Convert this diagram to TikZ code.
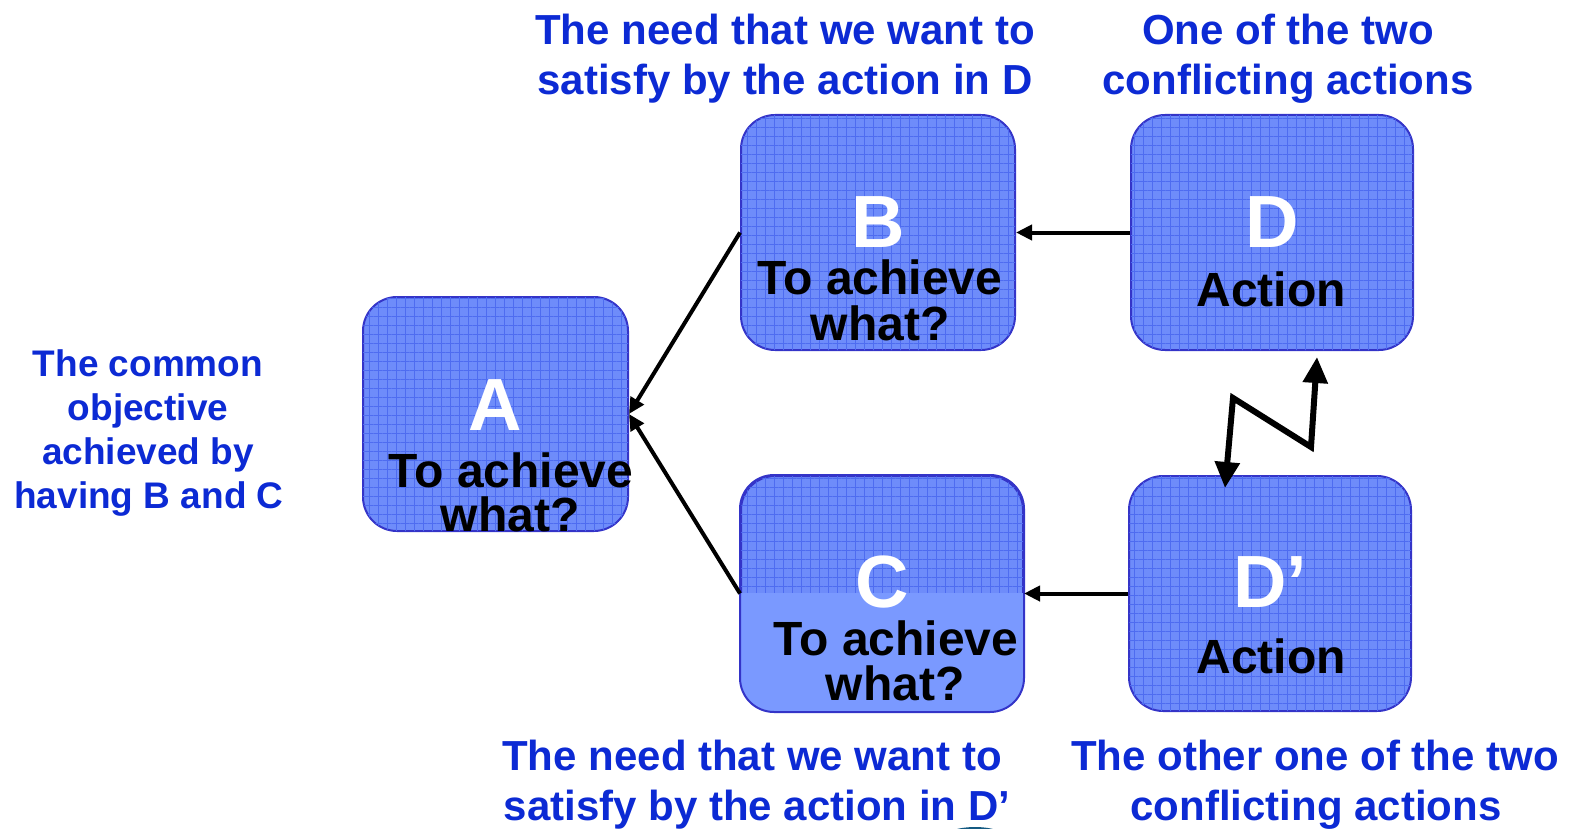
\documentclass[tikz,border=0pt]{standalone}
\usepackage{fontspec}
\setmainfont{Liberation Sans}
\usetikzlibrary{arrows.meta,patterns.meta,calc}
\definecolor{lblblue}{RGB}{12,42,212}
\definecolor{boxfill}{RGB}{110,140,250}
\definecolor{gridcol}{RGB}{78,108,240}
\definecolor{cfill}{RGB}{122,153,255}
\definecolor{bordercol}{RGB}{52,52,200}
\definecolor{teal}{RGB}{20,90,130}
\tikzset{
  box/.style={rectangle, rounded corners=17pt, draw=bordercol, line width=1pt, fill=boxfill,
    inner sep=0pt,
    postaction={pattern={Lines[angle=0,distance=4.5pt,line width=0.45pt]}, pattern color=gridcol},
    postaction={pattern={Lines[angle=90,distance=4.5pt,line width=0.45pt]}, pattern color=gridcol}},
  letter/.style={anchor=base, inner sep=0pt, text=white, font=\bfseries\fontsize{37}{37}\selectfont},
  inner/.style={anchor=base, inner sep=0pt, text=black, font=\bfseries\fontsize{24}{24}\selectfont},
  lbl/.style={anchor=base, inner sep=0pt, text=lblblue, font=\bfseries\fontsize{21}{21}\selectfont},
  lbls/.style={anchor=base, inner sep=0pt, text=lblblue, font=\bfseries\fontsize{18.5}{18.5}\selectfont},
  conn/.style={line width=2pt, -{Triangle[length=8pt,width=7.5pt]}},
}
\begin{document}
\begin{tikzpicture}[x=0.5pt,y=-0.5pt]
\useasboundingbox (0,0) rectangle (1573,829);
% boxes
\node[box, minimum width=132.5pt, minimum height=117pt] (A) at (495.5,414) {};
\node[box, minimum width=137pt, minimum height=117.5pt] (B) at (878,232.5) {};
\node[box, minimum width=141pt, minimum height=117.5pt] (D) at (1272,232.5) {};
\node[box, minimum width=141pt, minimum height=117.5pt] (C) at (882,593.5) {};
\node[box, minimum width=141pt, minimum height=117.5pt] (Dp) at (1270,593.5) {};
% lower part of C is plain
\begin{scope}
  \clip (700,593) rectangle (1060,740);
  \fill[cfill, rounded corners=17pt] (C.south west) rectangle (C.north east);
\end{scope}
\draw[bordercol, line width=1pt, rounded corners=17pt] (C.south west) rectangle (C.north east);
% box texts
\node[letter] (Al) at (495,430) {A};
\node[inner] (At1) at (511,487) {To achieve};
\node[inner] (At2) at (510,531) {what?};
\node[letter] (Bl) at (878,247) {B};
\node[inner] (Bt1) at (880,294) {To achieve};
\node[inner] (Bt2) at (880,340) {what?};
\node[letter] (Dl) at (1272,247) {D};
\node[inner] (Dt) at (1271,306) {Action};
\node[letter] (Cl) at (882,607) {C};
\node[inner] (Ct1) at (896,655) {To achieve};
\node[inner] (Ct2) at (895,700) {what?};
\node[letter] (Dpl) at (1270,607) {D’};
\node[inner] (Dpt) at (1271,673) {Action};
% labels
\node[lbl] (L1a) at (785,45) {The need that we want to};
\node[lbl] (L1b) at (785,95) {satisfy by the action in D};
\node[lbl] (L2a) at (1288,45) {One of the two};
\node[lbl] (L2b) at (1288,95) {conflicting actions};
\node[lbls] (L3a) at (148,376) {The common};
\node[lbls] (L3b) at (148,420) {objective};
\node[lbls] (L3c) at (148,464) {achieved by};
\node[lbls] (L3d) at (149,508) {having B and C};
\node[lbl] (L4a) at (752,770) {The need that we want to};
\node[lbl] (L4b) at (757,820) {satisfy by the action in D’};
\node[lbl] (L5a) at (1315,770) {The other one of the two};
\node[lbl] (L5b) at (1316,820) {conflicting actions};
% connectors
\draw[conn] (B.west) -- (A.east);
\draw[conn] (C.west) -- (A.east);
\draw[conn] (D.west) -- (B.east);
\draw[conn] (Dp.west) -- (C.east);
\coordinate (z1) at (1225,488);
\coordinate (z2) at (1233,398);
\coordinate (z3) at (1311,447);
\coordinate (z4) at (1317,357);
\draw[line width=3pt, miter limit=10, {Triangle[length=13pt,width=12pt]}-{Triangle[length=13pt,width=12pt]}] (z1) -- (z2) -- (z3) -- (z4);
% partial shape at bottom edge
\fill[teal] (975,842) ellipse (36 and 15);
\end{tikzpicture}
\end{document}
